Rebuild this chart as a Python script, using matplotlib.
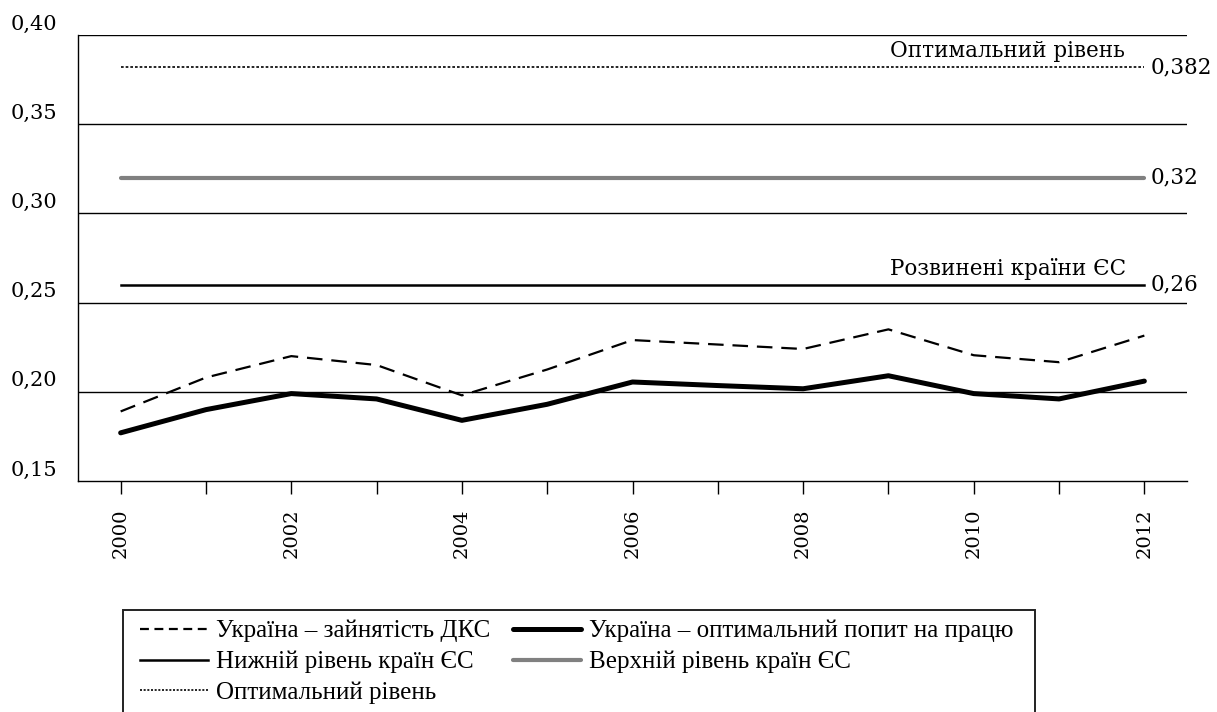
import matplotlib
matplotlib.use("Agg")
import matplotlib.pyplot as plt
from matplotlib.transforms import ScaledTranslation
from matplotlib.lines import Line2D
from matplotlib.patches import Rectangle

years = list(range(2000, 2013))
dks_employment = [0.189, 0.208, 0.220, 0.215, 0.198, 0.2125, 0.229, 0.2265, 0.224, 0.235, 0.2205, 0.2166, 0.2315]
optimal_demand = [0.177, 0.190, 0.199, 0.196, 0.184, 0.193, 0.2055, 0.2035, 0.2017, 0.209, 0.199, 0.196, 0.206]
eu_lower = 0.26
eu_upper = 0.32
optimal_level = 0.382
yticks = [0.15, 0.20, 0.25, 0.30, 0.35, 0.40]
ytick_labels = ["0,15", "0,20", "0,25", "0,30", "0,35", "0,40"]
xtick_years = [2000, 2002, 2004, 2006, 2008, 2010, 2012]

labels = ["Україна – зайнятість ДКС", "Україна – оптимальний попит на працю",
          "Нижній рівень країн ЄС", "Верхній рівень країн ЄС", "Оптимальний рівень"]

axis_font = "DejaVu Serif"
legend_font = "Liberation Serif"

fig = plt.figure(figsize=(12.17, 7.12), dpi=100)
ax = fig.add_axes([78/1217, 1-481/712, (1187-78)/1217, (481-35)/712])

x = list(range(len(years)))
ax.plot(x, dks_employment, color="black", lw=1.6, dashes=(7, 4), zorder=4)
ax.plot(x, optimal_demand, color="black", lw=3.6, solid_capstyle="round", zorder=5)
ax.plot([x[0], x[-1]], [eu_lower]*2, color="black", lw=1.8, zorder=3)
ax.plot([x[0], x[-1]], [eu_upper]*2, color="#808080", lw=3.0, solid_capstyle="round", zorder=3)
ax.plot([x[0], x[-1]], [optimal_level]*2, color="black", lw=1.2, dashes=(1.6, 1.2), zorder=3)

ax.set_xlim(-0.5, len(years) - 0.5)
ax.set_ylim(0.15, 0.40)
for v in yticks[1:]:
    ax.axhline(v, color="black", lw=1.0, zorder=1)

ax.set_yticks(yticks)
ax.set_yticklabels(ytick_labels, fontsize=15, family=axis_font)
ax.tick_params(axis="y", length=0, pad=15)
for lab in ax.get_yticklabels():
    lab.set_transform(lab.get_transform() + ScaledTranslation(0, 13/100, fig.dpi_scale_trans))

ax.set_xticks(x)
ax.set_xticklabels([str(y) if y in xtick_years else "" for y in years],
                   rotation=90, fontsize=14, family=axis_font)
ax.tick_params(axis="x", length=9, width=1.0, pad=10.5, direction="out")

for s in ["top", "right"]:
    ax.spines[s].set_visible(False)
ax.spines["left"].set_linewidth(1.0)
ax.spines["bottom"].set_linewidth(1.0)

# annotations
ax.text(x[-1] + 0.07, optimal_level, "0,382", fontsize=15.5, family=axis_font, va="center", ha="left")
ax.text(x[-1] + 0.07, eu_upper, "0,32", fontsize=15.5, family=axis_font, va="center", ha="left")
ax.text(x[-1] + 0.07, eu_lower, "0,26", fontsize=15.5, family=axis_font, va="center", ha="left")
ax.text(10.4, optimal_level + 0.0028, "Оптимальний рівень", fontsize=15.5, family=axis_font,
        va="bottom", ha="center")
ax.text(10.4, eu_lower + 0.0028, "Розвинені країни ЄС", fontsize=15.5, family=axis_font,
        va="bottom", ha="center")

handles = [
    Line2D([], [], color="black", lw=1.6, dashes=(4, 2.5)),
    Line2D([], [], color="black", lw=1.8),
    Line2D([], [], color="black", lw=1.2, dashes=(1.2, 1.0)),
    Line2D([], [], color="black", lw=3.6, solid_capstyle="round"),
    Line2D([], [], color="#808080", lw=3.0, solid_capstyle="round"),
]
order_labels = [labels[0], labels[2], labels[4], labels[1], labels[3]]
leg = fig.legend(handles, order_labels, ncol=2, loc="upper left",
                 bbox_to_anchor=(140/1217, 1-620/712), frameon=False,
                 prop={"family": legend_font, "size": 18},
                 handlelength=2.7, handletextpad=0.35, columnspacing=0.9,
                 labelspacing=0.33, borderpad=0.0, borderaxespad=0)

fig.add_artist(Rectangle((123/1217, -0.02), (1035-123)/1217, (712-610)/712 + 0.02,
                         transform=fig.transFigure, fill=False, lw=1.4,
                         edgecolor="#222222"))

fig.savefig("out.png", dpi=100)
